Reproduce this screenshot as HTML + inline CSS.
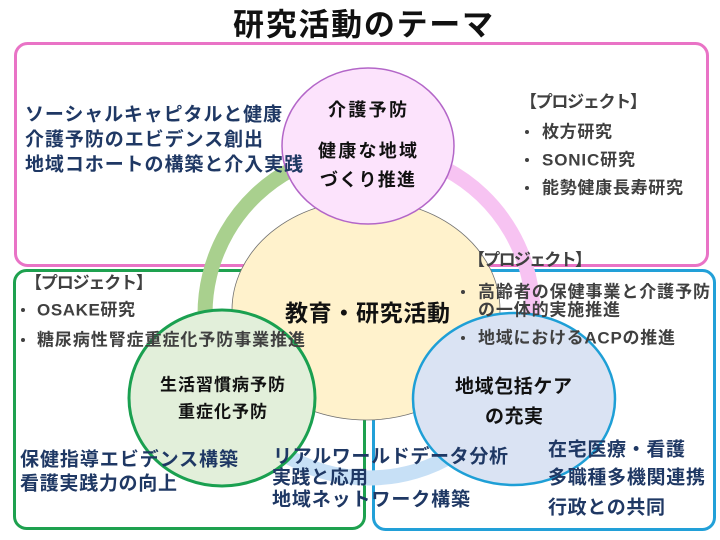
<!DOCTYPE html>
<html><head><meta charset="utf-8">
<style>
html,body{margin:0;padding:0;background:#fff;}
svg{display:block;}
text{font-family:"Liberation Sans","Noto Sans CJK JP",sans-serif;font-weight:bold;dominant-baseline:central;}
.nv{fill:#1f3864;font-size:19px;}
.bk{fill:#111;font-size:18px;}
.gr{fill:#404040;font-size:17px;}
</style></head>
<body>
<svg width="720" height="540" viewBox="0 0 720 540" xmlns="http://www.w3.org/2000/svg">
<rect width="720" height="540" fill="#fff"/>
<!-- boxes -->
<rect x="15.5" y="43.5" width="692" height="222" rx="12" fill="none" stroke="#e973c6" stroke-width="3"/>
<rect x="14.5" y="270.5" width="350" height="258" rx="12" fill="none" stroke="#1ea14f" stroke-width="3"/>
<rect x="373.5" y="270.5" width="341" height="259" rx="12" fill="none" stroke="#22a0d8" stroke-width="3"/>
<!-- ring arcs -->
<path d="M227,396 A164,164 0 0 1 369,150" fill="none" stroke="#a9d08e" stroke-width="15"/>
<path d="M369,150 A164,164 0 0 1 511,396" fill="none" stroke="#f7c3f2" stroke-width="15"/>
<path d="M511,396 A164,164 0 0 1 227,396" fill="none" stroke="#c7e0f6" stroke-width="15"/>
<!-- center -->
<ellipse cx="366" cy="310" rx="134" ry="110" fill="#fff2cc" stroke="#707070" stroke-width="0.8"/>
<!-- circles -->
<ellipse cx="368" cy="146" rx="86" ry="78" fill="#fce3fc" stroke="#b366c8" stroke-width="1.5"/>
<ellipse cx="222" cy="398" rx="93" ry="88" fill="#e2efda" stroke="#1aa050" stroke-width="3"/>
<ellipse cx="514" cy="399" rx="101" ry="86" fill="#dae3f3" stroke="#1e9fd6" stroke-width="2.5"/>

<!-- title -->
<text x="233" y="25" font-size="31" fill="#111" textLength="260" lengthAdjust="spacing">研究活動のテーマ</text>

<!-- pink left -->
<text class="nv" x="25" y="115" textLength="257" lengthAdjust="spacing">ソーシャルキャピタルと健康</text>
<text class="nv" x="25" y="140" textLength="238" lengthAdjust="spacing">介護予防のエビデンス創出</text>
<text class="nv" x="25" y="165" textLength="278" lengthAdjust="spacing">地域コホートの構築と介入実践</text>

<!-- pink circle -->
<text class="bk" x="328" y="110" textLength="79" lengthAdjust="spacing">介護予防</text>
<text class="bk" x="318" y="151" textLength="99" lengthAdjust="spacing">健康な地域</text>
<text class="bk" x="320" y="180" textLength="95" lengthAdjust="spacing">づくり推進</text>

<!-- pink right project -->
<text class="gr" x="520" y="102" textLength="127" lengthAdjust="spacing">【プロジェクト】</text>
<circle cx="527" cy="132" r="2" fill="#404040"/>
<text class="gr" x="542" y="132" textLength="70" lengthAdjust="spacing">枚方研究</text>
<circle cx="527" cy="160" r="2" fill="#404040"/>
<text class="gr" x="542" y="160" textLength="93" lengthAdjust="spacing">SONIC研究</text>
<circle cx="527" cy="188" r="2" fill="#404040"/>
<text class="gr" x="542" y="188" textLength="141" lengthAdjust="spacing">能勢健康長寿研究</text>

<!-- center text -->
<text x="285" y="313" font-size="23" fill="#111" textLength="165" lengthAdjust="spacing">教育・研究活動</text>

<!-- green project -->
<text class="gr" x="25" y="283" textLength="128" lengthAdjust="spacing">【プロジェクト】</text>
<circle cx="23" cy="310" r="2" fill="#404040"/>
<text class="gr" x="37" y="310" textLength="98" lengthAdjust="spacing">OSAKE研究</text>
<circle cx="23" cy="340" r="2" fill="#404040"/>
<text class="gr" x="37" y="340" textLength="268" lengthAdjust="spacing">糖尿病性腎症重症化予防事業推進</text>

<!-- green circle -->
<text class="bk" x="160" y="385" textLength="125" lengthAdjust="spacing" style="font-size:17px">生活習慣病予防</text>
<text class="bk" x="178" y="412" textLength="89" lengthAdjust="spacing" style="font-size:17px">重症化予防</text>

<!-- green bottom -->
<text class="nv" x="20" y="460" textLength="218" lengthAdjust="spacing">保健指導エビデンス構築</text>
<text class="nv" x="20" y="484" textLength="157" lengthAdjust="spacing">看護実践力の向上</text>

<!-- middle bottom -->
<text class="nv" x="273" y="457" textLength="235" lengthAdjust="spacing">リアルワールドデータ分析</text>
<text class="nv" x="272" y="478" textLength="96" lengthAdjust="spacing">実践と応用</text>
<text class="nv" x="272" y="500" textLength="198" lengthAdjust="spacing">地域ネットワーク構築</text>

<!-- blue project -->
<text class="gr" x="468" y="260" textLength="124" lengthAdjust="spacing">【プロジェクト】</text>
<circle cx="463" cy="292" r="2" fill="#404040"/>
<text class="gr" x="478" y="292" textLength="232" lengthAdjust="spacing">高齢者の保健事業と介護予防</text>
<text class="gr" x="478" y="310" textLength="142" lengthAdjust="spacing">の一体的実施推進</text>
<circle cx="463" cy="338" r="2" fill="#404040"/>
<text class="gr" x="478" y="338" textLength="197" lengthAdjust="spacing">地域におけるACPの推進</text>

<!-- blue circle -->
<text class="bk" x="455" y="387" textLength="117" lengthAdjust="spacing" style="font-size:19px">地域包括ケア</text>
<text class="bk" x="485" y="417" textLength="58" lengthAdjust="spacing" style="font-size:19px">の充実</text>

<!-- blue bottom -->
<text class="nv" x="548" y="450" textLength="137" lengthAdjust="spacing">在宅医療・看護</text>
<text class="nv" x="548" y="478" textLength="157" lengthAdjust="spacing">多職種多機関連携</text>
<text class="nv" x="548" y="508" textLength="117" lengthAdjust="spacing">行政との共同</text>
</svg>
</body></html>
